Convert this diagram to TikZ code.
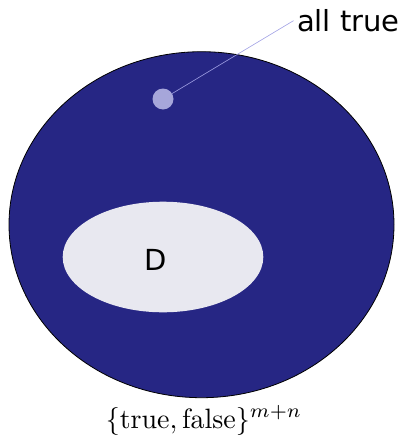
\documentclass[tikz,border=0pt]{standalone}
\usepackage{amsmath}
\usepackage{graphicx}
\usepackage{fontspec}
\newfontfamily\labelfont{DejaVu Sans}
\usetikzlibrary{calc}

\definecolor{outerblue}{RGB}{38,38,132}
\definecolor{innergray}{RGB}{232,232,240}
\definecolor{dotblue}{RGB}{166,166,218}
\definecolor{lineblue}{RGB}{160,160,228}

\begin{document}
\begin{tikzpicture}[x=1pt, y=-1pt]

    \useasboundingbox (0,0) rectangle (405,442);

    \coordinate (O) at (201.5,224.7);
    \coordinate (C) at (163,257);

    \draw[fill=outerblue, line width=0.8pt] (O) ellipse (192.5 and 173);
    \fill[innergray] (C) ellipse (100.3 and 55.3);

    \node[circle, fill=dotblue, minimum size=21pt, inner sep=0pt] (dot) at (163,99) {};
    \node[anchor=base west, font=\labelfont\fontsize{29}{35}\selectfont] (alltrue) at (293.5,31.5) {all true};
    \draw[lineblue, line width=0.6pt] (dot) -- (alltrue.west);

    \node[anchor=base, font=\labelfont\fontsize{29}{35}\selectfont] (D) at (156,270) {D};
    \node[anchor=base] (set) at (204,428) {\scalebox{2.8}{$\{\text{true}, \text{false}\}^{m+n}$}};

\end{tikzpicture}
\end{document}
